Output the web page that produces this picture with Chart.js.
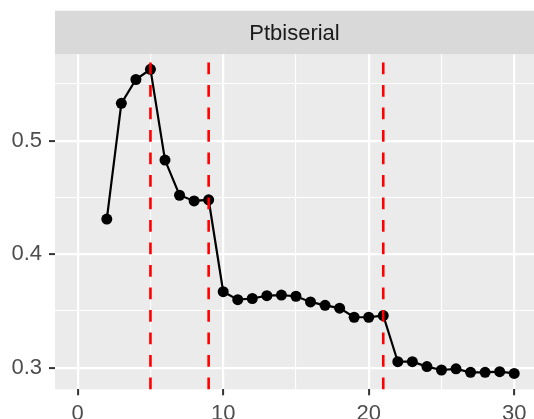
<!DOCTYPE html>
<html>
<head>
<meta charset="utf-8">
<script src="https://cdn.jsdelivr.net/npm/chart.js@4"></script>
<style>
  html, body { margin: 0; padding: 0; background: #ffffff; }
  #wrap { width: 534px; height: 419px; }
</style>
</head>
<body>
<div id="wrap"><canvas id="myChart" width="534" height="419"></canvas></div>
<script>
const xValues = [2,3,4,5,6,7,8,9,10,11,12,13,14,15,16,17,18,19,20,21,22,23,24,25,26,27,28,29,30];
const ptbiserial = [0.431,0.533,0.554,0.563,0.483,0.452,0.447,0.448,0.367,0.360,0.361,0.3635,0.364,0.363,0.358,0.355,0.3525,0.3445,0.3445,0.346,0.3053,0.3053,0.301,0.298,0.299,0.296,0.296,0.2965,0.295];
const cutPoints = [5, 9, 21];
const xMajorTicks = [0, 10, 20, 30];
const xMinorTicks = [5, 15, 25];
const yMajorTicks = [0.3, 0.4, 0.5];
const yMinorTicks = [0.35, 0.45, 0.55];
const stripTitle = 'Ptbiserial';

Chart.defaults.font.family = "'Liberation Sans', Arial, sans-serif";

function makeTicks(major, minor) {
  return major.map(v => ({ value: v, isMajor: true }))
    .concat(minor.map(v => ({ value: v, isMajor: false })))
    .sort((a, b) => a.value - b.value);
}

// ggplot-ish panel background, facet strip and dashed vlines
const panelPlugin = {
  id: 'panel',
  beforeDraw(chart) {
    const { ctx, chartArea: a } = chart;
    ctx.save();
    ctx.fillStyle = '#EBEBEB';
    ctx.fillRect(a.left, a.top, a.right - a.left, a.bottom - a.top);
    ctx.fillStyle = '#D9D9D9';
    ctx.fillRect(a.left, 10.7, a.right - a.left, a.top - 10.7);
    ctx.fillStyle = '#1A1A1A';
    ctx.font = "22px 'Liberation Sans', Arial, sans-serif";
    ctx.textAlign = 'center';
    ctx.textBaseline = 'middle';
    ctx.fillText(stripTitle, (a.left + a.right) / 2, (10.7 + a.top) / 2 + 1);
    ctx.restore();
  },
  afterDatasetsDraw(chart) {
    const { ctx, chartArea: a, scales } = chart;
    ctx.save();
    ctx.strokeStyle = '#FF0000';
    ctx.lineWidth = 2.6;
    ctx.setLineDash([11.7, 10.8]);
    cutPoints.forEach(v => {
      const px = scales.x.getPixelForValue(v);
      ctx.beginPath();
      ctx.moveTo(px, a.bottom);
      ctx.lineTo(px, a.top);
      ctx.stroke();
    });
    ctx.restore();
  }
};

const data = {
  datasets: [{
    label: stripTitle,
    data: xValues.map((x, i) => ({ x: x, y: ptbiserial[i] })),
    borderColor: '#000000',
    backgroundColor: '#000000',
    borderWidth: 2.2,
    pointRadius: 5.5,
    pointBorderWidth: 0,
    pointBackgroundColor: '#000000',
    tension: 0
  }]
};

const config = {
  type: 'line',
  data,
  plugins: [panelPlugin],
  options: {
    responsive: false,
    animation: false,
    layout: { autoPadding: false, padding: { top: 54.3, left: 0, right: 0, bottom: 0 } },
    plugins: { legend: { display: false }, tooltip: { enabled: false } },
    scales: {
      x: {
        type: 'linear',
        min: -1.56,
        max: 31.36,
        afterBuildTicks: s => { s.ticks = makeTicks(xMajorTicks, xMinorTicks); },
        afterFit: s => { s.height = 29.7; s.paddingLeft = 0; s.paddingRight = 0; },
        border: { display: false },
        grid: {
          color: '#FFFFFF',
          lineWidth: c => (c.tick && c.tick.isMajor ? 2.2 : 1.1),
          tickColor: c => (c.tick && c.tick.isMajor ? '#333333' : 'rgba(0,0,0,0)'),
          tickWidth: 2,
          tickLength: 6
        },
        ticks: {
          autoSkip: false,
          maxRotation: 0,
          padding: 5,
          color: '#4D4D4D',
          font: { size: 22 },
          callback: (v, i, t) => (t[i].isMajor ? String(v) : '')
        }
      },
      y: {
        type: 'linear',
        min: 0.281,
        max: 0.5762,
        afterBuildTicks: s => { s.ticks = makeTicks(yMajorTicks, yMinorTicks); },
        afterFit: s => { s.width = 55; s.paddingTop = 0; s.paddingBottom = 0; },
        border: { display: false },
        grid: {
          color: '#FFFFFF',
          lineWidth: c => (c.tick && c.tick.isMajor ? 2.2 : 1.1),
          tickColor: c => (c.tick && c.tick.isMajor ? '#333333' : 'rgba(0,0,0,0)'),
          tickWidth: 2,
          tickLength: 6
        },
        ticks: {
          autoSkip: false,
          padding: 7,
          color: '#4D4D4D',
          font: { size: 22 },
          callback: (v, i, t) => (t[i].isMajor ? v.toFixed(1) : '')
        }
      }
    }
  }
};

const myChart = new Chart(document.getElementById('myChart'), config);
</script>
</body>
</html>
